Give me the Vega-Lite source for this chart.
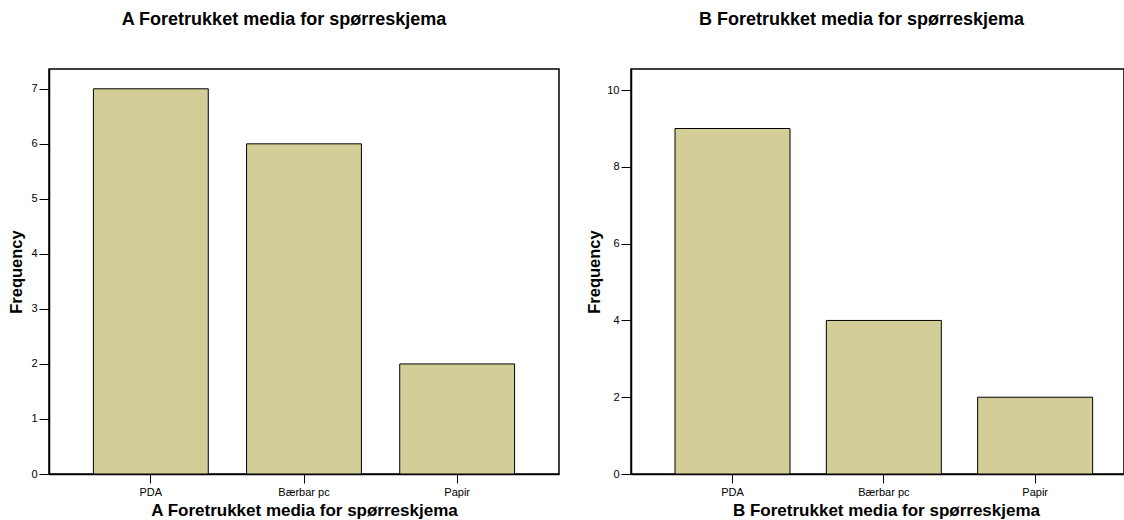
{
  "$schema": "https://vega.github.io/schema/vega-lite/v6.json",
  "background": "white",
  "padding": {"left": 8, "top": 10, "right": 0, "bottom": 0},
  "spacing": 26,
  "config": {
    "font": "Liberation Sans",
    "view": {"stroke": "black", "strokeWidth": 1.5},
    "axis": {
      "domainColor": "black", "domainWidth": 1.5,
      "tickColor": "black", "tickWidth": 1,
      "labelColor": "black", "titleColor": "black",
      "labelFont": "Liberation Sans", "titleFont": "Liberation Sans",
      "labelFontSize": 11, "titleFontSize": 16.5, "titleFontWeight": "bold",
      "grid": false
    },
    "title": {"fontSize": 18, "fontWeight": "bold", "font": "Liberation Sans", "color": "black"}
  },
  "datasets": {
    "a": [
      {"media": "PDA", "Frequency": 7},
      {"media": "Bærbar pc", "Frequency": 6},
      {"media": "Papir", "Frequency": 2}
    ],
    "b": [
      {"media": "PDA", "Frequency": 9},
      {"media": "Bærbar pc", "Frequency": 4},
      {"media": "Papir", "Frequency": 2}
    ]
  },
  "hconcat": [
    {
      "data": {"name": "a"},
      "title": {"text": "A Foretrukket media for spørreskjema", "offset": 40, "dx": -20},
      "width": 510,
      "height": 405,
      "mark": {"type": "bar", "fill": "#D3CE97", "stroke": "black", "strokeWidth": 1},
      "encoding": {
        "x": {
          "field": "media", "type": "nominal",
          "sort": ["PDA", "Bærbar pc", "Papir"],
          "scale": {"paddingInner": 0.25, "paddingOuter": 0.29},
          "axis": {"labelAngle": 0, "tickSize": 9, "labelPadding": 3, "title": "A Foretrukket media for spørreskjema", "titleFontSize": 17, "titlePadding": 5}
        },
        "y": {
          "field": "Frequency", "type": "quantitative",
          "scale": {"domain": [0, 7.36], "nice": false},
          "axis": {"values": [0, 1, 2, 3, 4, 5, 6, 7], "tickSize": 10, "labelPadding": 2, "titlePadding": 6, "title": "Frequency"}
        }
      }
    },
    {
      "data": {"name": "b"},
      "title": {"text": "B Foretrukket media for spørreskjema", "offset": 40, "dx": -16},
      "width": 493,
      "height": 405,
      "mark": {"type": "bar", "fill": "#D3CE97", "stroke": "black", "strokeWidth": 1},
      "encoding": {
        "x": {
          "field": "media", "type": "nominal",
          "sort": ["PDA", "Bærbar pc", "Papir"],
          "scale": {"paddingInner": 0.24, "paddingOuter": 0.249, "align": 0.584},
          "axis": {"labelAngle": 0, "tickSize": 9, "labelPadding": 3, "title": "B Foretrukket media for spørreskjema", "titleFontSize": 17, "titlePadding": 5, "titleX": 255}
        },
        "y": {
          "field": "Frequency", "type": "quantitative",
          "scale": {"domain": [0, 10.55], "nice": false},
          "axis": {"values": [0, 2, 4, 6, 8, 10], "tickSize": 10, "labelPadding": 2, "titlePadding": 4, "title": "Frequency"}
        }
      }
    }
  ]
}
